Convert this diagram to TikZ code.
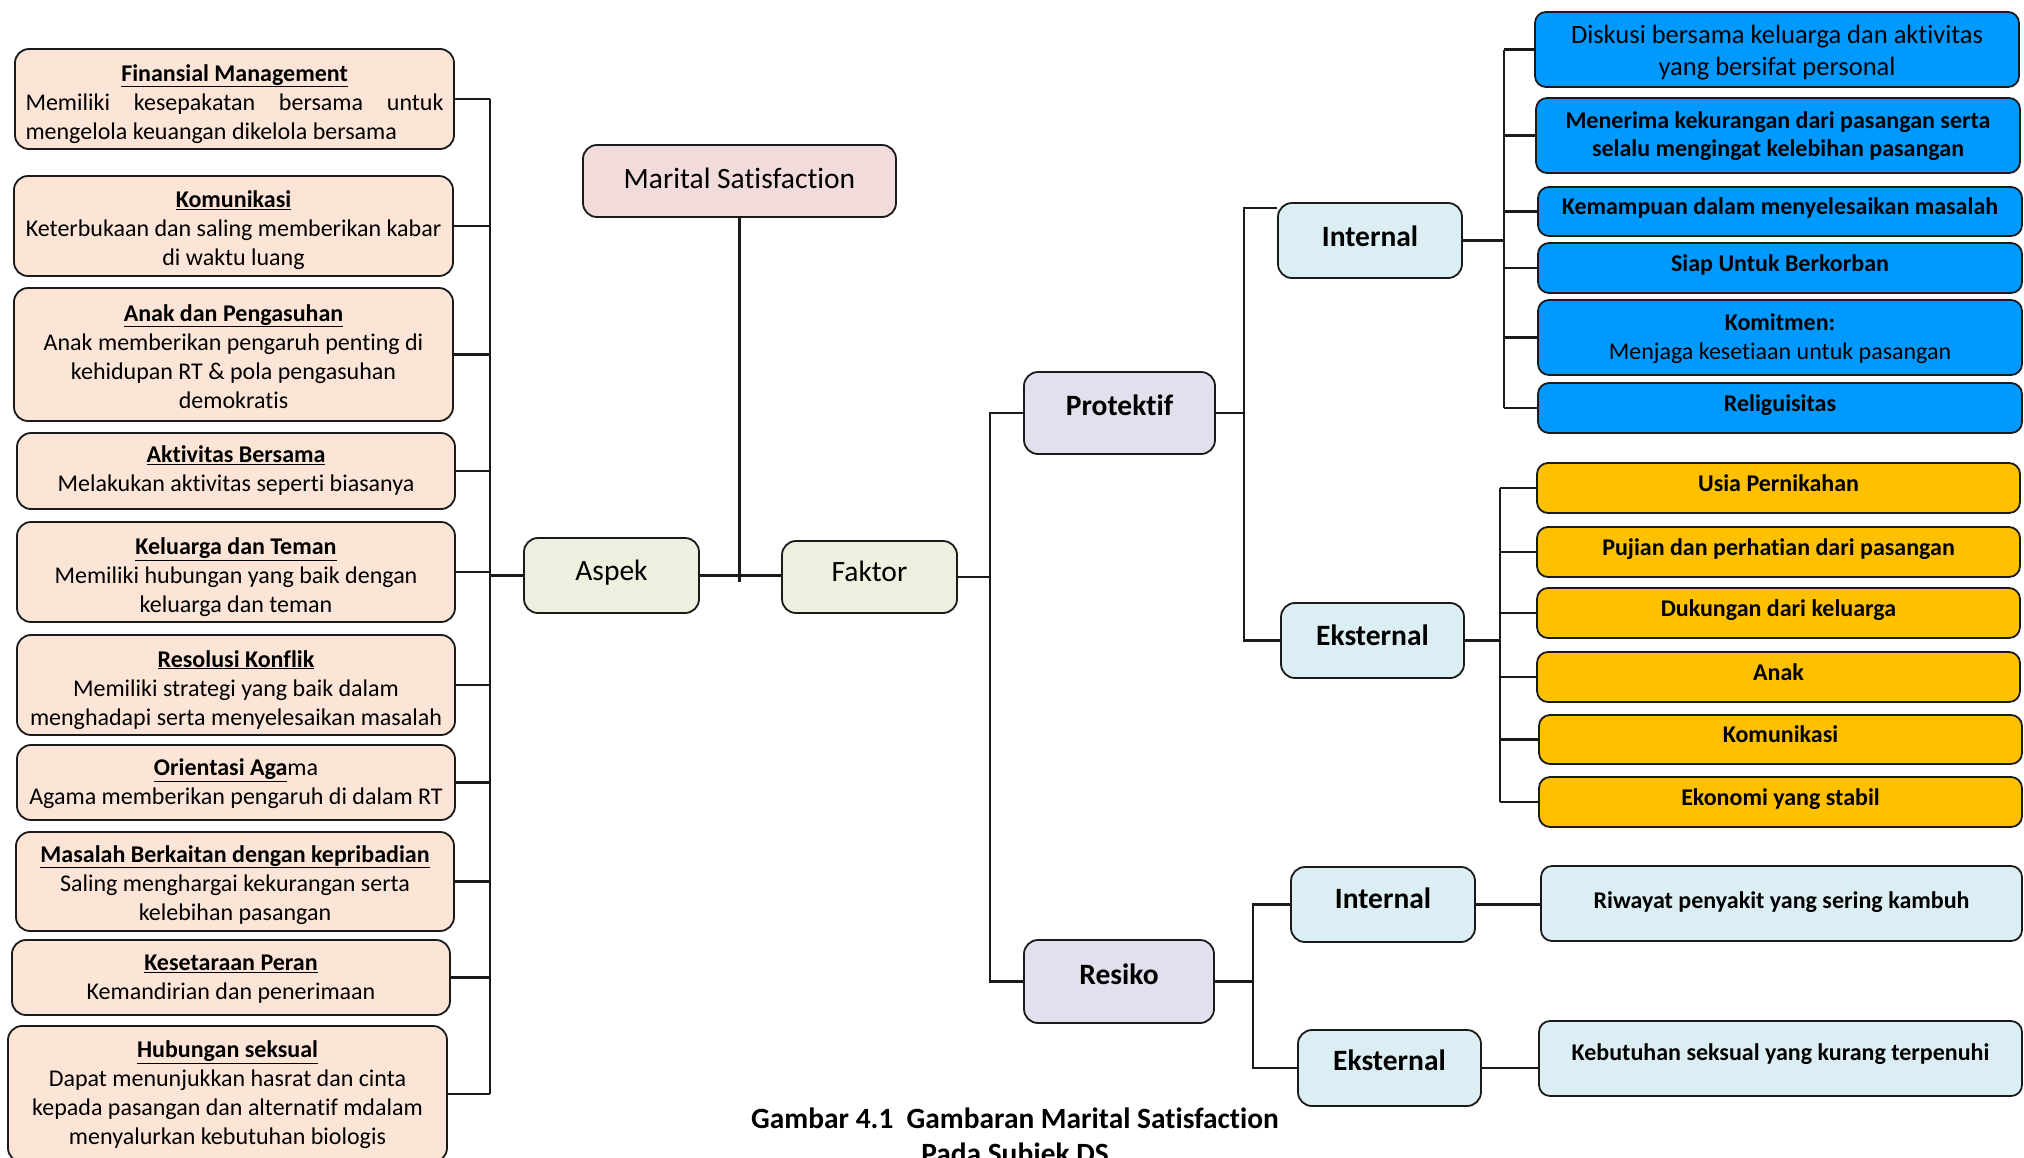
\documentclass[tikz,border=0pt]{standalone}
\usepackage{fontspec}
\setmainfont{Carlito}[Ligatures=NoCommon]
\definecolor{peach}{HTML}{FCE4D6}
\definecolor{mspink}{HTML}{F2DCDB}
\definecolor{grn}{HTML}{EBF1DE}
\definecolor{lav}{HTML}{E4DFEC}
\definecolor{ltblue}{HTML}{DBEEF4}
\definecolor{brblue}{HTML}{0099FF}
\definecolor{ylw}{HTML}{FFC000}
\definecolor{ink}{HTML}{1A1A1A}
\newcommand\ttl[1]{\underline{\textbf{#1}}}
\begin{document}
\begin{tikzpicture}[x=1pt,y=-1pt,
  box/.style={draw=ink, line width=1.8pt, rounded corners=14pt, inner sep=0pt, align=center},
  firstbase/.style={text height=0pt, text depth=#1},
  basedown/.style={text height=#1, text depth=0pt},
  pbox/.style={box, fill=peach, text width=432pt, align=flush center, font=\fontsize{24}{29}\selectfont},
  gbox/.style={box, fill=grn, font=\fontsize{29.5}{34}\selectfont},
  lbox/.style={box, fill=lav, font=\bfseries\fontsize{29.5}{34}\selectfont},
  cbox/.style={box, fill=ltblue, font=\bfseries\fontsize{29.5}{34}\selectfont},
  bbox/.style={box, rounded corners=11pt, fill=brblue, font=\bfseries\fontsize{24}{28}\selectfont},
  ybox/.style={box, rounded corners=11pt, fill=ylw, basedown=6.4pt, font=\bfseries\fontsize{24}{28}\selectfont},
  rbox/.style={box, rounded corners=11pt, fill=ltblue, font=\bfseries\fontsize{24}{28}\selectfont},
  conn/.style={line width=2.2pt, draw=ink}]
\useasboundingbox[fill=white] (0,0) rectangle (2024,1157);

% ---------- left column (Aspek) ----------
\node[pbox, minimum width=439pt, minimum height=100pt, text width=418pt, align=flush left, firstbase=36pt] (fin) at (234.5,99)
  {\hfill\ttl{Finansial Management}\hfill\null\\Memiliki\hfill kesepakatan\hfill bersama\hfill untuk\\mengelola keuangan dikelola bersama};
\node[pbox, minimum width=439pt, minimum height=100pt, firstbase=37pt] (kom) at (233.5,226)
  {\ttl{Komunikasi}\\Keterbukaan dan saling memberikan kabar\\di waktu luang};
\node[pbox, minimum width=439pt, minimum height=133pt, firstbase=67pt] (anak) at (233.5,354.5)
  {\ttl{Anak dan Pengasuhan}\\Anak memberikan pengaruh penting di\\kehidupan RT \& pola pengasuhan\\demokratis};
\node[pbox, minimum width=438pt, minimum height=76pt, firstbase=17pt] (akt) at (236,471)
  {\ttl{Aktivitas Bersama}\\Melakukan aktivitas seperti biasanya};
\node[pbox, minimum width=438pt, minimum height=100pt, firstbase=35pt] (kel) at (236,572)
  {\ttl{Keluarga dan Teman}\\Memiliki hubungan yang baik dengan\\keluarga dan teman};
\node[pbox, minimum width=438pt, minimum height=100pt, firstbase=36pt] (reso) at (236,685)
  {\ttl{Resolusi Konflik}\\Memiliki strategi yang baik dalam\\menghadapi serta menyelesaikan masalah};
\node[pbox, minimum width=438pt, minimum height=75pt, firstbase=13.5pt] (ori) at (236,782.5)
  {\ttl{Orientasi Aga}ma\\Agama memberikan pengaruh di dalam RT};
\node[pbox, minimum width=438pt, minimum height=99pt, firstbase=39pt] (mas) at (235,881.5)
  {\ttl{Masalah Berkaitan dengan kepribadian}\\Saling menghargai kekurangan serta\\kelebihan pasangan};
\node[pbox, minimum width=438pt, minimum height=75pt, firstbase=13.5pt] (kes) at (231,977.5)
  {\ttl{Kesetaraan Peran}\\Kemandirian dan penerimaan};
\node[pbox, minimum width=439pt, minimum height=136pt, firstbase=73pt] (hub) at (227.5,1094)
  {\ttl{Hubungan seksual}\\Dapat menunjukkan hasrat dan cinta\\kepada pasangan dan alternatif mdalam\\menyalurkan kebutuhan biologis};

% ---------- centre ----------
\node[box, fill=mspink, font=\fontsize{29.5}{34}\selectfont, minimum width=313pt, minimum height=72pt, basedown=14.6pt] (ms) at (739.5,181) {Marital Satisfaction};
\node[gbox, minimum width=175pt, minimum height=75pt, basedown=9pt] (asp) at (611.5,575.5) {Aspek};
\node[gbox, minimum width=175pt, minimum height=72pt, basedown=9.4pt] (fak) at (869.5,577) {Faktor};
\node[lbox, minimum width=191pt, minimum height=82pt, basedown=5pt] (prot) at (1119.5,413) {Protektif};
\node[lbox, minimum width=190pt, minimum height=83pt, basedown=5pt] (resk) at (1119,981.5) {Resiko};
\node[cbox, minimum width=184pt, minimum height=75pt, basedown=12.4pt] (pint) at (1370,240.5) {Internal};
\node[cbox, minimum width=183pt, minimum height=75pt, basedown=9pt] (pext) at (1372.5,640.5) {Eksternal};
\node[cbox, minimum width=184pt, minimum height=75pt, basedown=7.6pt] (rint) at (1383,904.5) {Internal};
\node[cbox, minimum width=183pt, minimum height=76pt, basedown=4pt] (rext) at (1389.5,1068) {Eksternal};

% ---------- right column ----------
\node[bbox, minimum width=484pt, minimum height=75pt, text width=474pt, align=flush center, firstbase=12.4pt, font=\fontsize{26.5}{32}\selectfont] (b1) at (1777,49.5)
  {Diskusi bersama keluarga dan aktivitas\\yang bersifat personal};
\node[bbox, minimum width=484pt, minimum height=75pt, text width=474pt, align=flush center, firstbase=14.4pt] (b2) at (1778,135.5)
  {Menerima kekurangan dari pasangan serta\\selalu mengingat kelebihan pasangan};
\node[bbox, minimum width=484pt, minimum height=49pt, basedown=6.8pt] (b3) at (1780,211.5) {Kemampuan dalam menyelesaikan masalah};
\node[bbox, minimum width=484pt, minimum height=50pt, basedown=6.8pt] (b4) at (1780,268) {Siap Untuk Berkorban};
\node[bbox, minimum width=484pt, minimum height=75pt, text width=474pt, align=flush center, firstbase=15pt, font=\fontsize{24}{29}\selectfont] (b5) at (1780,337.5)
  {\textbf{Komitmen:}\\Menjaga kesetiaan untuk pasangan};
\node[bbox, minimum width=484pt, minimum height=50pt, basedown=6.8pt] (b6) at (1780,408) {Religuisitas};

\node[ybox, minimum width=483pt, minimum height=50pt] (y1) at (1778.5,488) {Usia Pernikahan};
\node[ybox, minimum width=483pt, minimum height=50pt] (y2) at (1778.5,552) {Pujian dan perhatian dari pasangan};
\node[ybox, minimum width=483pt, minimum height=50pt] (y3) at (1778.5,613) {Dukungan dari keluarga};
\node[ybox, minimum width=483pt, minimum height=50pt] (y4) at (1778.5,677) {Anak};
\node[ybox, minimum width=483pt, minimum height=49pt] (y5) at (1780.5,739.5) {Komunikasi};
\node[ybox, minimum width=483pt, minimum height=50pt] (y6) at (1780.5,802) {Ekonomi yang stabil};

\node[rbox, minimum width=481pt, minimum height=75pt, basedown=9.6pt] (riw) at (1781.5,903.5) {Riwayat penyakit yang sering kambuh};
\node[rbox, minimum width=483pt, minimum height=75pt, basedown=3pt] (keb) at (1780.5,1058.5) {Kebutuhan seksual yang kurang terpenuhi};

% ---------- caption ----------
\node[font=\bfseries\fontsize{29.4}{35}\selectfont, align=center, inner sep=0pt] (cap) at (1015,1138)
  {Gambar 4.1\ \ Gambaran Marital Satisfaction\\Pada Subjek DS};

% ---------- connectors ----------
\coordinate (busA) at (490,0);
\coordinate (msEnd) at (741,582);
\coordinate (busF) at (990,0);
\coordinate (busP) at (1244,0);
\coordinate (busB) at (1504,0);
\coordinate (busY) at (1500,0);
\coordinate (busR) at (1253,0);

\draw[conn] (busA |- fin.east) -- (busA |- hub.east);
\foreach \n in {fin,kom,anak,akt,kel,reso,ori,mas,kes,hub}
  \draw[conn] (\n.east) -- (busA |- \n.east);
\draw[conn] (asp.west) -- (busA |- asp.west);

\draw[conn] (ms.south) -- (ms.south |- msEnd);
\draw[conn] (asp.east) -- (asp.east -| fak.west);

\draw[conn] (fak.east) -- (busF |- fak.east);
\draw[conn] (prot.west) -- (busF |- prot.west) -- (busF |- resk.west) -- (resk.west);

\coordinate (pintTop) at ([yshift=-6pt]pint.north west);
\draw[conn] (prot.east) -- (busP |- prot.east);
\draw[conn] (pintTop) -- (busP |- pintTop) -- (busP |- pext.west) -- (pext.west);

\draw[conn] (pint.east) -- (busB |- pint.east);
\draw[conn] (busB |- b1.west) -- (busB |- b6.west);
\foreach \n in {b1,b2,b3,b4,b5,b6}
  \draw[conn] (\n.west) -- (busB |- \n.west);

\draw[conn] (pext.east) -- (busY |- pext.east);
\draw[conn] (busY |- y1.west) -- (busY |- y6.west);
\foreach \n in {y1,y2,y3,y4,y5,y6}
  \draw[conn] (\n.west) -- (busY |- \n.west);

\draw[conn] (resk.east) -- (busR |- resk.east);
\draw[conn] (rint.west) -- (busR |- rint.west) -- (busR |- rext.west) -- (rext.west);
\draw[conn] (rint.east) -- (rint.east -| riw.west);
\draw[conn] (rext.east) -- (rext.east -| keb.west);
\end{tikzpicture}
\end{document}
